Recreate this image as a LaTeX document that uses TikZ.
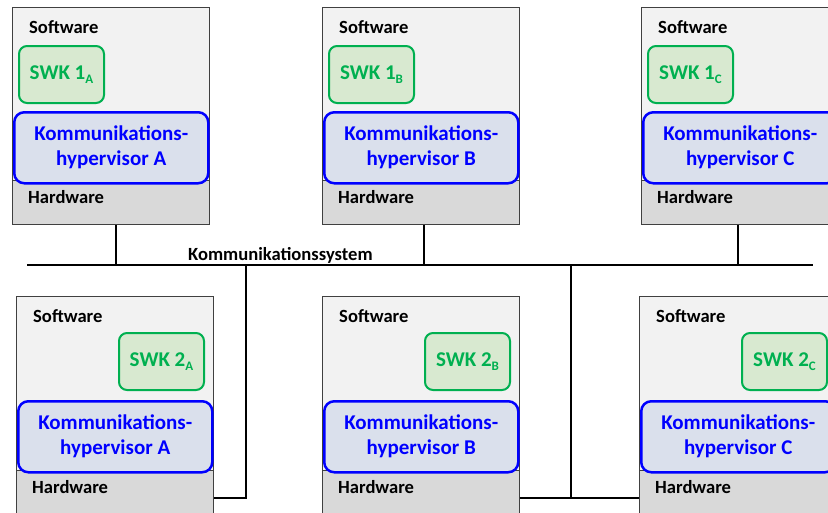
\documentclass[tikz,border=0pt]{standalone}
\usepackage{fontspec}
\setmainfont{Carlito}
\usetikzlibrary{calc}
\definecolor{swfill}{HTML}{F2F2F2}
\definecolor{hwfill}{HTML}{D9D9D9}
\definecolor{frame}{HTML}{404040}
\definecolor{swkgreen}{HTML}{00B050}
\definecolor{swkfill}{HTML}{D8E9D0}
\definecolor{hvblue}{HTML}{0000FF}
\definecolor{hvfill}{HTML}{DAE0EC}
% lowered index letter of a software component
\newcommand\idx[1]{\raisebox{-4.5pt}{\fontsize{13}{13}\selectfont #1}}
\tikzset{
  hostbox/.style={draw=frame, line width=0.9pt, fill=swfill, anchor=north west,
    minimum width=197pt, minimum height=217pt, inner sep=0pt},
  hwband/.style={draw=frame, line width=0.9pt, fill=hwfill, anchor=north west,
    minimum width=197pt, minimum height=44pt, inner sep=0pt},
  plainlabel/.style={anchor=west, inner sep=0pt, font=\fontsize{18.6}{20}\selectfont\bfseries},
  swkbox/.style={draw=swkgreen, line width=2pt, fill=swkfill, rounded corners=8pt,
    anchor=north west, minimum width=85pt, minimum height=57pt, inner sep=0pt,
    text=swkgreen, font=\fontsize{21}{24}\selectfont\bfseries},
  hvbox/.style={draw=hvblue, line width=2.5pt, fill=hvfill, rounded corners=10pt,
    anchor=north west, minimum width=194pt, minimum height=71pt, inner sep=0pt,
    text=hvblue, align=center, font=\fontsize{21}{25}\selectfont\bfseries},
  wire/.style={line width=2.6pt, black}
}
% one host of the upper row: name, left edge, letter
\newcommand\upperhost[3]{%
  \node[hostbox] (host1#1) at (#2,7) {};
  \node[hwband] (hw1#1) at (#2,180) {};
  \node[plainlabel] (sw1#1) at (#2+17,27) {Software};
  \node[plainlabel] (hwl1#1) at (#2+16,197) {Hardware};
  \node[swkbox] (swk1#1) at (#2+6,45) {SWK 1\idx{#3}};
  \node[hvbox] (hv1#1) at (#2+1,111) {Kommunikations-\\hypervisor #3};
}
% one host of the lower row: name, left edge, letter
\newcommand\lowerhost[3]{%
  \node[hostbox] (host2#1) at (#2,296) {};
  \node[hwband] (hw2#1) at (#2,470) {};
  \node[plainlabel] (sw2#1) at (#2+17,316) {Software};
  \node[plainlabel] (hwl2#1) at (#2+16,487) {Hardware};
  \node[swkbox] (swk2#1) at (#2+102,332) {SWK 2\idx{#3}};
  \node[hvbox] (hv2#1) at (#2+1,400) {Kommunikations-\\hypervisor #3};
}
\begin{document}
\begin{tikzpicture}[x=1pt, y=-1pt]
  \useasboundingbox (0,0) rectangle (828,512);
  \clip (0,0) rectangle (828,512);

  \upperhost{A}{12}{A}
  \upperhost{B}{322}{B}
  \upperhost{C}{641}{C}
  \lowerhost{A}{16}{A}
  \lowerhost{B}{322}{B}
  \lowerhost{C}{639}{C}

  % communication bus
  \coordinate (busL) at (27,265);
  \coordinate (busR) at (813,265);
  \draw[wire] (busL) -- (busR);
  \node[plainlabel, anchor=base west] (busname) at (188,260.5) {Kommunikationssystem};

  % taps of the upper hosts
  \coordinate (jA) at (116,265);
  \coordinate (jB) at (424,265);
  \coordinate (jC) at (738,265);
  \draw[wire] (jA) -- (jA |- hw1A.south);
  \draw[wire] (jB) -- (jB |- hw1B.south);
  \draw[wire] (jC) -- (jC |- hw1C.south);

  % taps of the lower hosts
  \coordinate (jD) at (246,265);
  \coordinate (kD) at (246,498);
  \draw[wire] (jD) -- (kD) -- (kD -| hw2A.east);
  \coordinate (jE) at (571,265);
  \coordinate (kE) at (571,498);
  \draw[wire] (jE) -- (kE);
  \draw[wire] (kE -| hw2B.east) -- (kE -| hw2C.west);
\end{tikzpicture}
\end{document}
